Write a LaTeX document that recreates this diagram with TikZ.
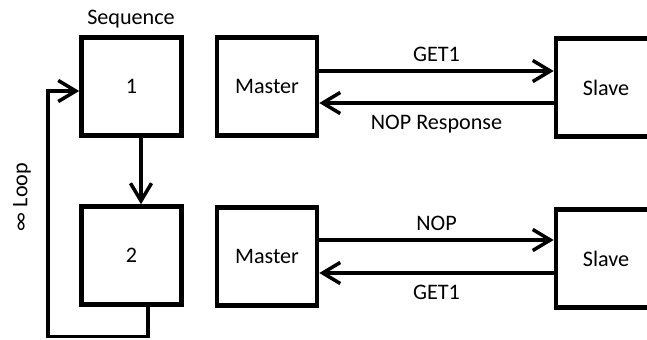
\documentclass[tikz,border=0pt]{standalone}
\usepackage{fontspec}
\setmainfont{Carlito}
\usetikzlibrary{arrows.meta}
\tikzstyle{bx}=[rectangle,draw=black,line width=2.6pt,
  minimum width=2.0cm,minimum height=1.96cm,inner sep=0pt]
\tikzstyle{ar}=[line width=2pt,
  -{Straight Barb[length=10pt,width=12pt,line join=miter]}]

\begin{document}
\begin{tikzpicture}[x=0.02cm,y=-0.02cm,font=\fontsize{12.6}{15}\selectfont]
    \useasboundingbox (0,0) rectangle (647,339);
    \clip (0,0) rectangle (647,339);
    % sequence column
    \node [style=bx] (seqa) at (131.5,86.5) {1};
    \node [style=bx] (seqb) at (131.5,255.5) {2};
    \node (seqlbl) at (131,19) {Sequence};
    \node [rotate=90] (looplbl) at (22,197) {∞ Loop};
    \coordinate (lp) at (48,336.5);
    \draw [style=ar] ([xshift=0.19cm]seqa.south) -- ([xshift=0.19cm]seqb.north);
    \draw [style=ar] ([xshift=0.33cm]seqb.south) |- (lp) |- ([yshift=-0.09cm]seqa.west);
    % step 1
    \node [style=bx] (ma) at (267,86.5) {Master};
    \node [style=bx] (sa) at (606,87.5) {Slave};
    \draw [style=ar] ([yshift=0.31cm]ma.east) -- node [above=1pt] {GET1} ([yshift=0.31cm]ma.east -| sa.west);
    \draw [style=ar] ([yshift=-0.33cm]ma.east -| sa.west) -- node [below=2.5pt] {NOP Response} ([yshift=-0.33cm]ma.east);
    % step 2
    \node [style=bx] (mb) at (267,256.5) {Master};
    \node [style=bx] (sb) at (606,258.5) {Slave};
    \draw [style=ar] ([yshift=0.33cm]mb.east) -- node [above=1pt] {NOP} ([yshift=0.33cm]mb.east -| sb.west);
    \draw [style=ar] ([yshift=-0.33cm]mb.east -| sb.west) -- node [below=2.5pt] {GET1} ([yshift=-0.33cm]mb.east);
  \end{tikzpicture}
\end{document}
